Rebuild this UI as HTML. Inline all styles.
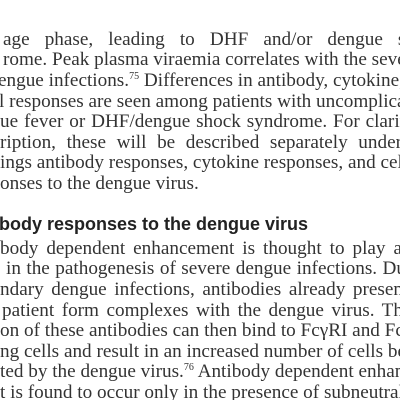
<!DOCTYPE html>
<html><head><meta charset="utf-8"><style>
html,body{margin:0;padding:0;background:#fff;}
#page{position:relative;width:400px;height:400px;overflow:hidden;background:#fff;}
.l{position:absolute;left:0;white-space:nowrap;font-family:"Liberation Serif",serif;font-size:19.2px;line-height:20.6px;height:20.6px;color:#333;}
.j{text-align:justify;text-align-last:justify;white-space:normal;overflow:visible;}
sup{font-size:10px;line-height:0;vertical-align:7px;}
.h{position:absolute;left:-1px;white-space:nowrap;font-family:"Liberation Sans",sans-serif;font-weight:bold;font-size:18px;color:#222;letter-spacing:0px;}
</style></head><body>
<div id="page">
<div class="l j" style="top:29.7px;left:3px;width:412px">age phase, leading to DHF and/or dengue sh</div>
<div class="l" style="top:50.3px;left:3px">rome. Peak plasma viraemia correlates with the severity</div>
<div class="l" style="top:70.9px;left:-2px">engue infections.<sup>75</sup> Differences in antibody, cytokine, and</div>
<div class="l" style="top:91.5px;left:-1px">l responses are seen among patients with uncomplicated</div>
<div class="l j" style="top:112.1px;left:0px;width:405px">ue fever or DHF/dengue shock syndrome. For clarit</div>
<div class="l j" style="top:132.7px;left:0px;width:402px">ription, these will be described separately under</div>
<div class="l" style="top:153.3px;left:0px">ings antibody responses, cytokine responses, and cellular</div>
<div class="l" style="top:173.9px;left:0px">onses to the dengue virus.</div>
<div class="h" style="top:214px">body responses to the dengue virus</div>
<div class="l j" style="top:238.7px;left:0px;width:402px">body dependent enhancement is thought to play a</div>
<div class="l j" style="top:259.3px;left:6px;width:400px">in the pathogenesis of severe dengue infections. Du</div>
<div class="l j" style="top:279.9px;left:0px;width:403px">ndary dengue infections, antibodies already presen</div>
<div class="l j" style="top:300.5px;left:2px;width:401px">patient form complexes with the dengue virus. Th</div>
<div class="l" style="top:321.1px;left:0px">on of these antibodies can then bind to FcγRI and FcγRII</div>
<div class="l" style="top:341.7px;left:0px">ng cells and result in an increased number of cells being</div>
<div class="l" style="top:362.3px;left:0px">ted by the dengue virus.<sup>76</sup> Antibody dependent enhancement</div>
<div class="l" style="top:382.9px;left:0px">t is found to occur only in the presence of subneutralising</div>
</div>
</body></html>
